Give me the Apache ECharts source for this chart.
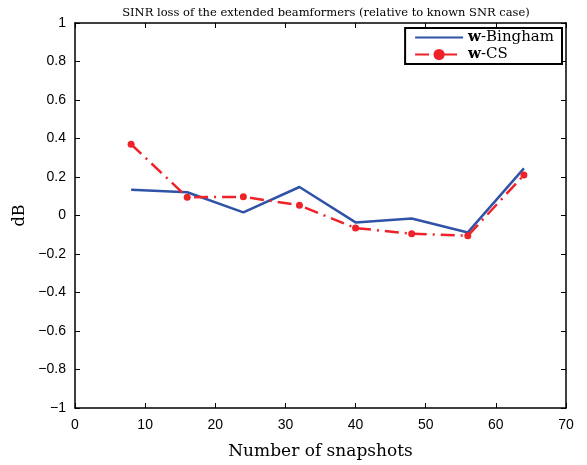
<!DOCTYPE html>
<html><head><meta charset="utf-8">
<script src="https://cdn.jsdelivr.net/npm/echarts@6/dist/echarts.min.js"></script>
<style>html,body{margin:0;padding:0;background:#fff}#c{width:587px;height:465px}</style>
</head><body><div id="c"></div>
<script>
const snapshots = [8, 16, 24, 32, 40, 48, 56, 64];
const bingham = [0.134, 0.121, 0.016, 0.148, -0.036, -0.016, -0.088, 0.245];
const cs = [0.37, 0.095, 0.097, 0.053, -0.065, -0.095, -0.105, 0.21];
const xTicks = [0, 10, 20, 30, 40, 50, 60, 70];
const yTicks = [-1, -0.8, -0.6, -0.4, -0.2, 0, 0.2, 0.4, 0.6, 0.8, 1];

const chart = echarts.init(document.getElementById('c'));
const axisLine = {show: true, onZero: false, lineStyle: {color: '#000', width: 1.5}};
const tick = {show: true, inside: true, length: 5, lineStyle: {color: '#000', width: 1}};
const lblFont = {fontFamily: 'Liberation Sans', fontSize: 14, color: '#000'};
const fmtY = v => (v < 0 ? '\u2212' + Math.abs(v) : String(v));
chart.setOption({
  animation: false,
  title: {
    text: 'SINR loss of the extended beamformers (relative to known SNR case)',
    left: 321, top: 2, textAlign: 'center',
    textStyle: {fontFamily: 'DejaVu Serif', fontSize: 11.5, fontWeight: 'normal', color: '#000'}
  },
  grid: {left: 75, right: 21, top: 23, bottom: 55},
  legend: {
    right: 25, top: 28, orient: 'vertical', itemGap: 2, itemWidth: 48, itemHeight: 14,
    padding: [2, 8, 2, 9],
    borderColor: '#000', borderWidth: 2, backgroundColor: '#fff',
    data: [
      {name: 'Bingham', itemStyle: {opacity: 0}},
      {name: 'CS'}
    ],
    formatter: n => '{b|w}{t|-' + n + '}',
    textStyle: {rich: {
      b: {fontFamily: 'DejaVu Serif', fontWeight: 'bold', fontSize: 15, color: '#000'},
      t: {fontFamily: 'DejaVu Serif', fontSize: 15, color: '#000'}
    }}
  },
  xAxis: [{
    type: 'value', min: 0, max: 70, interval: 10,
    name: 'Number of snapshots', nameLocation: 'middle', nameGap: 35,
    nameTextStyle: {fontFamily: 'DejaVu Serif', fontSize: 17, color: '#000'},
    axisLine, axisTick: tick, splitLine: {show: false},
    axisLabel: Object.assign({margin: 10}, lblFont)
  }, {
    type: 'value', min: 0, max: 70, interval: 10, position: 'top',
    axisLine, axisTick: tick, splitLine: {show: false}, axisLabel: {show: false}
  }],
  yAxis: [{
    type: 'value', min: -1, max: 1, interval: 0.2,
    name: 'dB', nameLocation: 'middle', nameGap: 45,
    nameTextStyle: {fontFamily: 'DejaVu Serif', fontSize: 16, color: '#000'},
    axisLine, axisTick: tick, splitLine: {show: false},
    axisLabel: Object.assign({margin: 9, formatter: v => fmtY(Math.round(v * 10) / 10)}, lblFont)
  }, {
    type: 'value', min: -1, max: 1, interval: 0.2, position: 'right',
    axisLine, axisTick: tick, splitLine: {show: false}, axisLabel: {show: false}
  }],
  series: [{
    name: 'Bingham', type: 'line',
    data: snapshots.map((x, i) => [x, bingham[i]]),
    showSymbol: false, symbol: 'none',
    lineStyle: {color: '#2F53A6', width: 2.5},
    itemStyle: {color: '#2F53A6'}
  }, {
    name: 'CS', type: 'line',
    data: snapshots.map((x, i) => [x, cs[i]]),
    symbol: 'circle', symbolSize: 7,
    lineStyle: {color: '#EE2229', width: 2.5, type: [14, 6, 2, 6]},
    itemStyle: {color: '#EE2229'}
  }]
});
</script></body></html>
